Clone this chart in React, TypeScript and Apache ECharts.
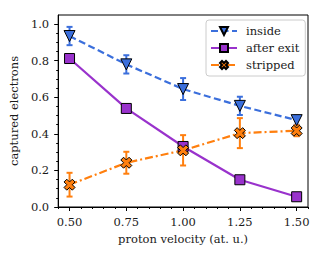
import React, { useEffect, useRef } from "react";
import * as echarts from "echarts";

const velocities = [0.5, 0.75, 1.0, 1.25, 1.5];
const insideVals = [0.935, 0.78, 0.645, 0.553, 0.475];
const insideErr = [0.05, 0.05, 0.06, 0.05, 0.025];
const afterVals = [0.812, 0.539, 0.331, 0.149, 0.056];
const afterErr = [0.015, 0.015, 0.015, 0.015, 0.01];
const strippedVals = [0.122, 0.242, 0.31, 0.404, 0.417];
const strippedErr = [0.065, 0.06, 0.083, 0.082, 0.03];

const xTickLabels = [0.5, 0.75, 1.0, 1.25, 1.5];
const xMinorTicks = [0.45, 0.55, 0.6, 0.65, 0.7, 0.8, 0.85, 0.9, 0.95, 1.05, 1.1, 1.15, 1.2, 1.3, 1.35, 1.4, 1.45, 1.55];
const yTickLabels = [0, 0.2, 0.4, 0.6, 0.8, 1.0];
const yMinorTicks = [0.05, 0.1, 0.15, 0.25, 0.3, 0.35, 0.45, 0.5, 0.55, 0.65, 0.7, 0.75, 0.85, 0.9, 0.95];

const FONT = "DejaVu Serif";
const BLUE = "#3b6fdc";
const PURPLE = "#9932cc";
const ORANGE = "#ff7f0e";

const TRI_DOWN = "path://M0,0 L10,0 L5,10 Z";
const X_MARK =
  "path://M-1,-0.5 L-0.5,-1 L0,-0.5 L0.5,-1 L1,-0.5 L0.5,0 L1,0.5 L0.5,1 L0,0.5 L-0.5,1 L-1,0.5 L-0.5,0 Z";

function errSeries(name: string, vals: number[], errs: number[], color: string) {
  return {
    type: "custom",
    name,
    xAxisIndex: 0,
    yAxisIndex: 0,
    z: 2,
    data: velocities.map((v, i) => [v, vals[i] - errs[i], vals[i] + errs[i]]),
    encode: { x: 0, y: [1, 2] },
    renderItem: (params: any, api: any) => {
      const x = api.value(0);
      const p1 = api.coord([x, api.value(1)]);
      const p2 = api.coord([x, api.value(2)]);
      const cw = 3;
      const style = { stroke: color, lineWidth: 2 };
      return {
        type: "group",
        children: [
          { type: "line", shape: { x1: p1[0], y1: p1[1], x2: p2[0], y2: p2[1] }, style },
          { type: "line", shape: { x1: p1[0] - cw, y1: p1[1], x2: p1[0] + cw, y2: p1[1] }, style },
          { type: "line", shape: { x1: p2[0] - cw, y1: p2[1], x2: p2[0] + cw, y2: p2[1] }, style },
        ],
      };
    },
  };
}

function lineSeries(name: string, vals: number[], color: string, symbol: string, size: number, dash: any) {
  return {
    type: "line",
    name,
    xAxisIndex: 0,
    yAxisIndex: 0,
    z: 3,
    data: velocities.map((v, i) => [v, vals[i]]),
    symbol,
    symbolSize: size,
    showAllSymbol: true,
    lineStyle: { color, width: 2.2, type: dash },
    itemStyle: { color, borderColor: "#000", borderWidth: 1 },
  };
}

export default function App() {
  const ref = useRef<HTMLDivElement>(null);
  useEffect(() => {
    if (!ref.current) return;
    const chart = echarts.init(ref.current, undefined, { renderer: "svg" });
    const labelStyle = { fontFamily: FONT, fontSize: 11.5, color: "#1a1a1a" };
    chart.setOption({
      animation: false,
      backgroundColor: "#fff",
      textStyle: { fontFamily: FONT },
      grid: {
        left: 52,
        right: 16,
        top: 15,
        bottom: 49,
        show: true,
        borderColor: "#000",
        borderWidth: 1,
        backgroundColor: "transparent",
      },
      legend: {
        data: ["inside", "after exit", "stripped"],
        orient: "vertical",
        left: 206,
        top: 20,
        itemWidth: 26,
        itemHeight: 10,
        itemGap: 5,
        padding: [5, 6, 5, 4],
        borderColor: "#ccc",
        borderWidth: 1,
        borderRadius: 3,
        backgroundColor: "rgba(255,255,255,0.85)",
        textStyle: { ...labelStyle, padding: [0, 0, 0, 4] },
      },
      xAxis: [
        {
          type: "value",
          min: 0.45,
          max: 1.55,
          name: "proton velocity (at. u.)",
          nameLocation: "middle",
          nameGap: 24,
          nameTextStyle: labelStyle,
          axisLine: { show: true, lineStyle: { color: "#000", width: 1 } },
          axisTick: { show: true, length: 4, customValues: xTickLabels, lineStyle: { color: "#000" } },
          axisLabel: {
            customValues: xTickLabels,
            formatter: (v: number) => v.toFixed(2),
            margin: 9,
            ...labelStyle,
          },
          splitLine: { show: false },
        },
        {
          type: "value",
          min: 0.45,
          max: 1.55,
          position: "bottom",
          axisLine: { show: false },
          axisTick: { show: true, length: 2, customValues: xMinorTicks, lineStyle: { color: "#000" } },
          axisLabel: { show: false },
          splitLine: { show: false },
        },
      ],
      yAxis: [
        {
          type: "value",
          min: 0,
          max: 1.05,
          name: "captured electrons",
          nameLocation: "middle",
          nameGap: 31,
          nameRotate: 90,
          nameTextStyle: labelStyle,
          axisLine: { show: true, lineStyle: { color: "#000", width: 1 } },
          axisTick: { show: true, length: 4, customValues: yTickLabels, lineStyle: { color: "#000" } },
          axisLabel: {
            customValues: yTickLabels,
            formatter: (v: number) => v.toFixed(1),
            margin: 9,
            ...labelStyle,
          },
          splitLine: { show: false },
        },
        {
          type: "value",
          min: 0,
          max: 1.05,
          position: "left",
          axisLine: { show: false },
          axisTick: { show: true, length: 2, customValues: yMinorTicks, lineStyle: { color: "#000" } },
          axisLabel: { show: false },
          splitLine: { show: false },
        },
      ],
      series: [
        errSeries("inside-err", insideVals, insideErr, BLUE),
        lineSeries("inside", insideVals, BLUE, TRI_DOWN, 11, [7, 3.5]),
        errSeries("after-err", afterVals, afterErr, PURPLE),
        lineSeries("after exit", afterVals, PURPLE, "rect", 10, "solid"),
        errSeries("stripped-err", strippedVals, strippedErr, ORANGE),
        lineSeries("stripped", strippedVals, ORANGE, X_MARK, 11, [8, 3, 2, 3]),
      ],
    });
    return () => chart.dispose();
  }, []);
  return (
    <div
      ref={ref}
      style={{ position: "fixed", left: 0, top: 0, width: 324, height: 256 }}
    />
  );
}
